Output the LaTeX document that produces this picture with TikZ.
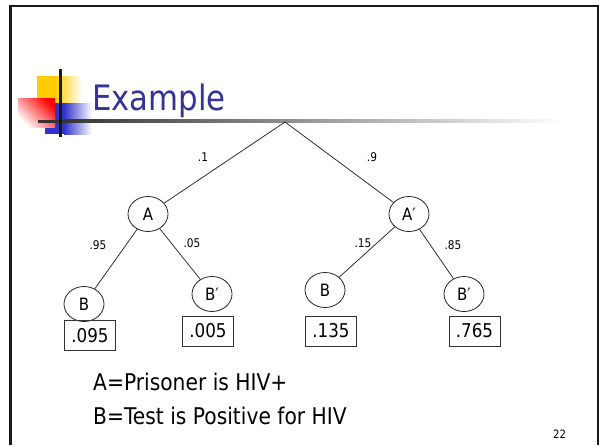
\documentclass[tikz,border=0pt]{standalone}
\usepackage{fontspec}
\setmainfont{DejaVu Sans}[FakeStretch=0.88]
\usetikzlibrary{shapes.geometric}
\definecolor{titleblue}{RGB}{51,51,153}
\definecolor{logoyellow}{RGB}{255,204,0}
\definecolor{logoblue}{RGB}{51,51,204}
\definecolor{logored}{RGB}{255,0,0}
\tikzset{
  leaf/.style={draw=black!85, ellipse, minimum width=40pt, minimum height=35pt, inner sep=0pt, line width=0.8pt, font=\fontsize{17}{17}\selectfont},
  probbox/.style={draw=black!80, rectangle, minimum width=51pt, minimum height=30pt, inner sep=0pt, line width=1pt, font=\fontsize{19}{19}\selectfont},
  elabel/.style={font=\fontsize{12}{12}\selectfont, inner sep=0pt},
  branch/.style={line width=0.75pt, black!85},
  bodytext/.style={font=\fontsize{23}{23}\selectfont, inner sep=0pt, anchor=base west}
}
\begin{document}
\begin{tikzpicture}[x=1pt, y=-1pt]
\useasboundingbox (0,0) rectangle (600,445);
\fill[white] (0,0) rectangle (600,445);
% slide frame
\draw[line width=2.2pt, black!90] (10.5,445) -- (10.5,6) -- (598,6) -- (598,445);
% logo
\fill[logoyellow] (37,76) rectangle (55,120);
\shade[left color=logoyellow, right color=white] (55,76) rectangle (82,120);
\fill[logoblue] (45,103) rectangle (64,134);
\shade[left color=logoblue, right color=white] (64,103) rectangle (92,134);
\shade[top color=logored, bottom color=white, shading angle=-45] (18,98) rectangle (55,127);
\shade[left color=black!80, right color=white] (60,119.5) rectangle (565,122.5);
\fill[black!80] (38,119.5) rectangle (60,122.5);
\fill[black!90] (58.5,69) rectangle (61.5,137);
% title
\node[anchor=base west, inner sep=0pt, text=titleblue, font=\fontsize{35}{35}\selectfont] (title) at (92,110) {Example};
% tree
\coordinate (R) at (285,122);
\node[leaf] (A) at (148,214) {A};
\node[leaf] (Ap) at (409,214) {A′};
\node[leaf] (B1) at (84,304) {B};
\node[leaf] (Bp1) at (212,294) {B′};
\node[leaf] (B2) at (325,290) {B};
\node[leaf] (Bp2) at (464,294) {B′};
\draw[branch] (R) -- (A);
\draw[branch] (R) -- (Ap);
\draw[branch] (A) -- (B1);
\draw[branch] (A) -- (Bp1);
\draw[branch] (Ap) -- (B2);
\draw[branch] (Ap) -- (Bp2);
\node[elabel] (l1) at (203,157) {.1};
\node[elabel] (l9) at (372,157) {.9};
\node[elabel] (l95) at (98,245) {.95};
\node[elabel] (l05) at (192,243) {.05};
\node[elabel] (l15) at (363,243) {.15};
\node[elabel] (l85) at (453,245) {.85};
% result boxes
\node[probbox] (p1) at (90,335.5) {.095};
\node[probbox] (p2) at (208,331) {.005};
\node[probbox] (p3) at (331,331) {.135};
\node[probbox] (p4) at (474.5,331) {.765};
% legend
\node[bodytext] (t1) at (93,390) {A=Prisoner is HIV+};
\node[bodytext] (t2) at (93,424) {B=Test is Positive for HIV};
\node[anchor=base west, inner sep=0pt, font=\fontsize{11.5}{11.5}\selectfont] (pg) at (553,438) {22};
\end{tikzpicture}
\end{document}
